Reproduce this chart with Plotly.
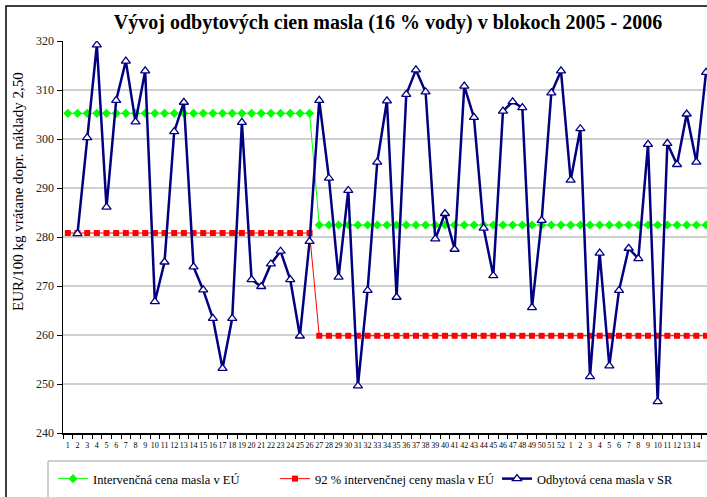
import plotly.graph_objects as go

# ---- data ----
week_labels = [str(i) for i in range(1, 53)] + [str(i) for i in range(1, 16)]

intervention_price = [
    305.23, 305.23, 305.23, 305.23, 305.23, 305.23, 305.23, 305.23, 305.23, 305.23,
    305.23, 305.23, 305.23, 305.23, 305.23, 305.23, 305.23, 305.23, 305.23, 305.23,
    305.23, 305.23, 305.23, 305.23, 305.23, 305.23,
    282.44, 282.44, 282.44, 282.44, 282.44, 282.44, 282.44, 282.44, 282.44, 282.44,
    282.44, 282.44, 282.44, 282.44, 282.44, 282.44, 282.44, 282.44, 282.44, 282.44,
    282.44, 282.44, 282.44, 282.44, 282.44, 282.44, 282.44, 282.44, 282.44, 282.44,
    282.44, 282.44, 282.44, 282.44, 282.44, 282.44, 282.44, 282.44, 282.44, 282.44,
    282.44,
]

intervention_92 = [
    280.81, 280.81, 280.81, 280.81, 280.81, 280.81, 280.81, 280.81, 280.81, 280.81,
    280.81, 280.81, 280.81, 280.81, 280.81, 280.81, 280.81, 280.81, 280.81, 280.81,
    280.81, 280.81, 280.81, 280.81, 280.81, 280.81,
    259.84, 259.84, 259.84, 259.84, 259.84, 259.84, 259.84, 259.84, 259.84, 259.84,
    259.84, 259.84, 259.84, 259.84, 259.84, 259.84, 259.84, 259.84, 259.84, 259.84,
    259.84, 259.84, 259.84, 259.84, 259.84, 259.84, 259.84, 259.84, 259.84, 259.84,
    259.84, 259.84, 259.84, 259.84, 259.84, 259.84, 259.84, 259.84, 259.84, 259.84,
    259.84,
]

sr_price = [
    None, 280.7, 300.3, 319.2, 286.1, 307.9, 315.9, 303.5, 313.9, 266.8,
    274.9, 301.5, 307.5, 273.9, 269.2, 263.4, 253.2, 263.4, 303.4, 271.3,
    269.9, 274.5, 277.1, 271.3, 259.8, 279.1, 307.9, 292.0, 271.8, 289.5,
    249.6, 269.1, 295.3, 307.8, 267.7, 309.1, 314.1, 309.6, 279.6, 284.8,
    277.5, 310.8, 304.4, 281.8, 272.1, 305.7, 307.6, 306.4, 265.6, 283.4,
    309.4, 313.9, 291.6, 302.1, 251.5, 276.7, 253.7, 269.1, 277.7, 275.6,
    298.9, 246.4, 299.1, 294.8, 305.1, 295.3, 313.6,
]

y_title = "EUR/100 kg vrátane dopr. náklady 2,50"

x_idx = list(range(len(week_labels)))
SERIF = "Liberation Serif"

fig = go.Figure()
fig.add_trace(go.Scatter(
    x=x_idx, y=intervention_price, mode="lines+markers",
    name="Intervenčná cena masla v EÚ",
    line=dict(color="#00FF00", width=1),
    marker=dict(symbol="diamond", size=7, color="#00FF00"),
))
fig.add_trace(go.Scatter(
    x=x_idx, y=intervention_92, mode="lines+markers",
    name="92 % intervenčnej ceny masla v EÚ",
    line=dict(color="#FF0000", width=1),
    marker=dict(symbol="square", size=6, color="#FF0000"),
))
fig.add_trace(go.Scatter(
    x=x_idx, y=sr_price, mode="lines+markers",
    name="Odbytová cena masla v SR",
    line=dict(color="#000080", width=2.5),
    marker=dict(symbol="triangle-up", size=8, color="white",
                line=dict(color="#000080", width=1.3)),
))

# body margin is removed in the page, so figure pixels == page pixels
W, H = 707, 497
PLOT_L, PLOT_T, PLOT_B, PLOT_R = 63, 41, 433, 707
L, T, B, R = PLOT_L, PLOT_T, H - PLOT_B, W - PLOT_R
pw, ph = W - L - R, H - T - B

def px(xp):
    return (xp - L) / pw

def py(yp):
    return (H - B - yp) / ph

fig.update_layout(
    width=W, height=H,
    margin=dict(l=L, r=R, t=T, b=B, autoexpand=False),
    paper_bgcolor="white", plot_bgcolor="white",
    hovermode=False,
    font=dict(family=SERIF, color="black"),
    title=dict(text="<b>Vývoj odbytových cien masla (16 % vody) v blokoch 2005 - 2006</b>",
               x=388 / W, xref="container", xanchor="center",
               y=1 - 22 / H, yref="container", yanchor="middle",
               font=dict(family=SERIF, size=20, color="black")),
    showlegend=True,
    legend=dict(orientation="h", x=px(53), xanchor="left",
                y=py(479), yanchor="middle",
                font=dict(family=SERIF, size=12.5, color="black"),
                bgcolor="rgba(0,0,0,0)", borderwidth=0,
                entrywidth=177, entrywidthmode="pixels",
                tracegroupgap=0, itemwidth=30),
    xaxis=dict(
        range=[-0.5, 66.1], tickmode="array", tickvals=x_idx, ticktext=week_labels,
        ticks="outside", ticklen=4, tickcolor="rgba(0,0,0,0)",
        tickfont=dict(family=SERIF, size=8, color="black"),
        tickangle=0, automargin=False,
        showline=True, linecolor="black", linewidth=1.5,
        showgrid=False, zeroline=False,
        minor=dict(tickmode="array", tickvals=[i - 0.5 for i in range(0, 68)],
                   ticks="outside", ticklen=4, tickcolor="black", tickwidth=1,
                   showgrid=False),
    ),
    yaxis=dict(
        range=[240, 320], dtick=10, tick0=240, automargin=False,
        ticks="outside", ticklen=5, tickcolor="black",
        tickfont=dict(family=SERIF, size=12, color="#222"),
        showline=True, linecolor="black", linewidth=1.5,
        showgrid=True, gridcolor="#cfcfcf", gridwidth=1.5,
        zeroline=False,
    ),
    annotations=[
        dict(text=y_title, xref="paper", yref="paper",
             x=px(18), y=py(192), xanchor="center", yanchor="middle",
             textangle=-90, showarrow=False,
             font=dict(family=SERIF, size=15, color="black")),
    ],
    shapes=[
        # outer chart border (partly outside image)
        dict(type="rect", xref="paper", yref="paper",
             x0=px(6), x1=px(760), y0=py(560), y1=py(6),
             line=dict(color="black", width=1.5), fillcolor="rgba(0,0,0,0)",
             layer="below"),
        # legend box
        dict(type="rect", xref="paper", yref="paper",
             x0=px(48), x1=px(740), y0=py(540), y1=py(461),
             line=dict(color="#a0a0a0", width=1), fillcolor="rgba(0,0,0,0)"),
    ],
)

fig.write_html(
    "out.html",
    config={"displayModeBar": False, "staticPlot": True},
    post_script="document.body.style.margin='0';document.body.style.overflow='hidden';",
)
